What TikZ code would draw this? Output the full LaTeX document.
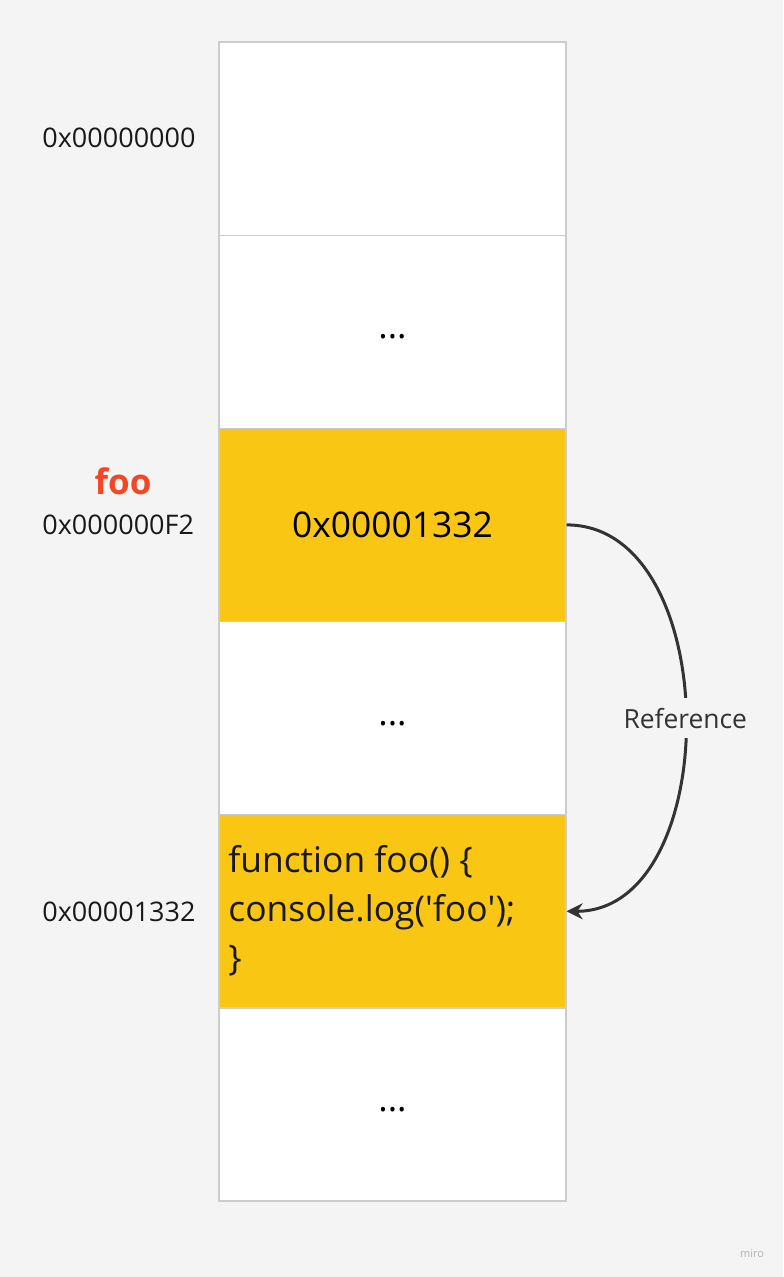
\documentclass[tikz,border=0pt]{standalone}
\usepackage{fontspec}
\setmainfont{Open Sans}
\usetikzlibrary{arrows.meta}
\definecolor{miroyellow}{HTML}{F9C713}
\definecolor{mirored}{HTML}{F24726}
\definecolor{bggray}{HTML}{F4F4F4}
\definecolor{edgegray}{HTML}{CCCCCC}
\definecolor{inkgray}{HTML}{333333}
\newcommand{\bigtext}{\fontsize{17.7}{24.5}\selectfont}

\begin{document}
\begin{tikzpicture}[x=0.5pt, y=-0.5pt,
    cell/.style={draw=edgegray, line width=0.6pt, fill=white,
      minimum width=173.5pt, minimum height=96.6pt, inner sep=0pt, font=\bigtext},
    used/.style={cell, fill=miroyellow},
    addr/.style={anchor=west, inner sep=0pt, text=black!90, font=\fontsize{13.5}{16}\selectfont}]
    \useasboundingbox (0,0) rectangle (783,1277);
    \fill[bggray] (0,0) rectangle (783,1277);

    % memory cells
    \node[cell] (c0) at (392.5,138.6) {};
    \foreach \i/\y in {1/331.8,3/718.1,5/1104.4}{
      \node[cell] (c\i) at (392.5,\y) {\raisebox{-3.5pt}[0pt][0pt]{...}};
    }
    \node[used] (c2) at (392.5,524.9) {0x00001332};
    \node[used] (c4) at (392.5,911.3) {};
    \node[anchor=west, align=left, inner sep=0pt, font=\bigtext, text=black!90] (code)
      at (228,911) {function foo() \{\\console.log(\textquotesingle foo\textquotesingle);\\\}};

    % addresses
    \node[addr] (a0) at (42,138) {0x00000000};
    \node[addr] (a2) at (42,525) {0x000000F2};
    \node[addr] (a4) at (42,912) {0x00001332};
    \node[text=mirored, font=\fontsize{17.5}{20}\selectfont\bfseries] (foo) at (123,481) {foo};

    \draw[inkgray, line width=1.5pt, -{Stealth[length=8pt, width=8pt]}]
    (c2.east) to[out=0, in=0, looseness=1.05]
      node[fill=bggray, text=inkgray, inner sep=5pt, font=\fontsize{13.2}{16}\selectfont] (ref) {Reference}
    (c4.east);

    \node[text=black!30, font=\fontsize{5.5}{6}\selectfont] (wm) at (752,1254) {miro};
  \end{tikzpicture}
\end{document}
